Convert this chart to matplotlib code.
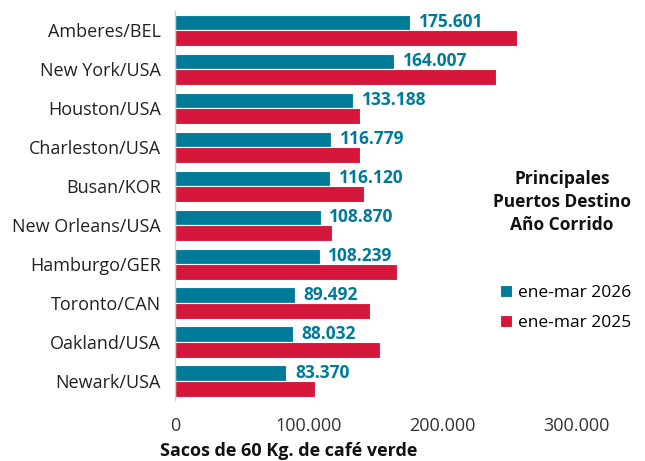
import numpy as np
import matplotlib.pyplot as plt

# Data
puertos = ["Amberes/BEL", "New York/USA", "Houston/USA", "Charleston/USA", "Busan/KOR",
           "New Orleans/USA", "Hamburgo/GER", "Toronto/CAN", "Oakland/USA", "Newark/USA"]
sacos_2026 = [175601, 164007, 133188, 116779, 116120, 108870, 108239, 89492, 88032, 83370]
sacos_2025 = [255600, 240000, 138100, 138100, 141100, 117100, 165700, 146100, 153100, 104800]
x_ticks = [0, 100000, 200000, 300000]
x_tick_labels = ["0", "100.000", "200.000", "300.000"]

teal = "#007a99"
red = "#d4173a"

plt.rcParams['font.family'] = ['Open Sans', 'DejaVu Sans']

def fmt(v):
    return f"{v:,}".replace(",", ".")

fig = plt.figure(figsize=(6.45, 4.61), dpi=100)
ax = fig.add_axes([175 / 645, 1 - 400.5 / 461, 468 / 645, 389.7 / 461])

y = np.arange(len(puertos))
h = 0.4
ax.barh(y - h / 2, sacos_2026, height=h, color=teal, edgecolor="white", linewidth=0.8,
        label="ene-mar 2026")
ax.barh(y + h / 2, sacos_2025, height=h, color=red, edgecolor="white", linewidth=0.8,
        label="ene-mar 2025")

for yi, v in zip(y, sacos_2026):
    ax.text(v + 6500, yi - h / 2, fmt(v), color=teal, fontsize=12.5, fontweight="bold",
            va="center", ha="left")

ax.set_ylim(len(puertos) - 0.5, -0.5)
ax.set_xlim(0, 350000)
ax.set_yticks(y)
ax.set_yticklabels(puertos, fontsize=13, color="#222222")
ax.set_xticks(x_ticks)
ax.set_xticklabels(x_tick_labels, fontsize=13, color="#333333")
ax.tick_params(axis="both", length=0)
ax.tick_params(axis="y", pad=10)
ax.tick_params(axis="x", pad=12)

for s in ["top", "right", "bottom"]:
    ax.spines[s].set_visible(False)
ax.spines["left"].set_color("#d0d0d0")
ax.spines["left"].set_linewidth(1)

fig.text(160 / 645, 1 - 451 / 461, "Sacos de 60 Kg. de café verde", fontsize=13,
         fontweight="bold", ha="left", va="center", color="#111111")

fig.text(562 / 645, 1 - 202 / 461, "Principales\nPuertos Destino\nAño Corrido",
         fontsize=12.5, fontweight="bold", ha="center", va="center", linespacing=1.38,
         color="#111111")

leg = fig.legend(loc="center left", bbox_to_anchor=(484 / 645, 1 - 308 / 461), frameon=False,
                 fontsize=12.5, handlelength=0.7, handleheight=0.7, handletextpad=0.35,
                 labelspacing=0.75)

fig.savefig("out.png", dpi=100)
